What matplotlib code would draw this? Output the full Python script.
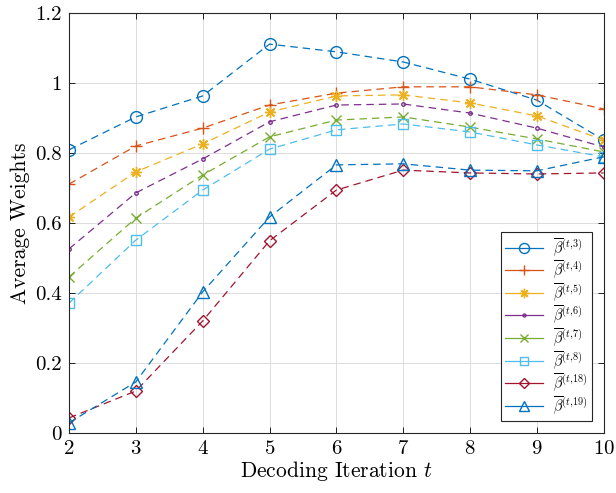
import matplotlib
matplotlib.use("Agg")
import matplotlib.pyplot as plt
from matplotlib.ticker import FuncFormatter

plt.rcParams["font.family"] = "serif"
plt.rcParams["font.serif"] = ["cmr10", "DejaVu Serif"]
plt.rcParams["mathtext.fontset"] = "cm"
plt.rcParams["axes.formatter.use_mathtext"] = True

# ── Dati ──────────────────────────────────────────────────────────────────────
iters = [2, 3, 4, 5, 6, 7, 8, 9, 10]

beta_3  = [0.809, 0.903, 0.963, 1.111, 1.089, 1.060, 1.011, 0.951, 0.837]
beta_4  = [0.711, 0.820, 0.871, 0.937, 0.971, 0.989, 0.989, 0.966, 0.926]
beta_5  = [0.617, 0.746, 0.826, 0.917, 0.963, 0.966, 0.943, 0.906, 0.837]
beta_6  = [0.526, 0.686, 0.783, 0.889, 0.937, 0.940, 0.914, 0.871, 0.817]
beta_7  = [0.446, 0.614, 0.737, 0.846, 0.894, 0.903, 0.874, 0.840, 0.803]
beta_8  = [0.371, 0.551, 0.694, 0.811, 0.866, 0.883, 0.860, 0.823, 0.789]
beta_18 = [0.043, 0.120, 0.320, 0.549, 0.694, 0.751, 0.743, 0.740, 0.743]
beta_19 = [0.029, 0.146, 0.403, 0.617, 0.766, 0.769, 0.751, 0.749, 0.789]

labels = ["3", "4", "5", "6", "7", "8", "18", "19"]

# ── Stili (colori MATLAB di default) ──────────────────────────────────────────
SERIES = [
    (beta_3,  "#0072BD", "o", 8.5),
    (beta_4,  "#D95319", "+", 9),
    (beta_5,  "#EDB120", (8, 2, 0), 8),
    (beta_6,  "#7E2F8E", ".", 5),
    (beta_7,  "#77AC30", "x", 7),
    (beta_8,  "#4DBEEE", "s", 7),
    (beta_18, "#A2142F", "D", 6.5),
    (beta_19, "#0072BD", "^", 8.5),
]

fig = plt.figure(figsize=(6.16, 4.93), dpi=100, facecolor="white")
ax = fig.add_axes([0.112, 0.1217, 0.868, 0.852])

for (vals, col, mk, ms), lab in zip(SERIES, labels):
    ax.plot(iters, vals, color=col, marker=mk, ms=ms, mfc="none", mew=1.0,
            lw=0.9, dashes=(6, 4),
            label=r"$\overline{\beta}^{(t{,}" + lab + ")}$")

ax.set_xlim(2, 10)
ax.set_ylim(0, 1.2)
ax.set_xticks(iters)
ax.set_yticks([0, 0.2, 0.4, 0.6, 0.8, 1.0, 1.2])
ax.yaxis.set_major_formatter(FuncFormatter(lambda v, p: f"{v:g}"))
ax.tick_params(direction="in", top=True, right=True, labelsize=15, length=4,
               width=0.6, pad=5)
ax.grid(color="#dcdcdc", lw=0.7)
ax.set_axisbelow(True)
for s in ax.spines.values():
    s.set_linewidth(0.8)
    s.set_color("#262626")

ax.set_xlabel(r"Decoding Iteration $t$", fontsize=15.5, labelpad=1)
ax.set_ylabel("Average Weights", fontsize=15.5, labelpad=4)

leg = ax.legend(loc="lower right", fontsize=10.5, fancybox=False, framealpha=1,
                edgecolor="#262626", handlelength=2.6, borderaxespad=0.8,
                labelspacing=0.0, borderpad=0.3, handletextpad=0.7,
                markerscale=0.85)
leg.get_frame().set_linewidth(0.8)
for h in leg.get_lines():
    h.set_linestyle("-")

fig.savefig("out.png", dpi=100)
